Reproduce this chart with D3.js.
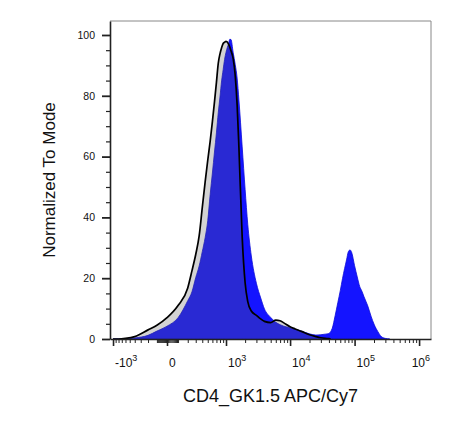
<!DOCTYPE html>
<html>
<head>
  <meta charset="utf-8">
  <title>CD4 histogram overlay</title>
  <script src="https://d3js.org/d3.v7.min.js"></script>
  <style>
    body { margin: 0; background: #fff; }
    text { font-family: "Liberation Sans", Arial, sans-serif; fill: #111; }
  </style>
</head>
<body>
  <div id="chart"></div>
  <script>
    const channelValues = [
      -1000, -800, -600, -400, -200, -100,
      0, 100, 200, 250, 300, 350, 400, 450, 500, 550,
      600, 650, 700, 750, 800, 850, 900, 950, 1000,
      1100, 1150, 1200, 1300, 1400, 1500, 1600, 1800, 2000, 2200,
      2500, 3000, 3500, 4000, 5000, 6000, 7000, 8000, 10000, 12000,
      15000, 20000, 25000, 30000, 35000, 40000, 42500, 45000, 50000, 55000,
      60000, 65000, 70000, 75000, 80000, 85000, 90000, 100000, 110000, 120000,
      130000, 140000, 160000, 180000, 200000, 230000, 260000, 300000, 350000
    ];

    // control sample: grey fill, black outline (% of mode)
    const controlCounts = [
      0, 0, 0.2, 0.8, 3.0, 4.5,
      7.0, 11.0, 16.8, 22.4, 27.8, 33.9, 43.2, 51.6, 58.8, 65.0,
      71.5, 78.0, 84.4, 90.7, 93.8, 95.8, 97.2, 97.6, 97.9,
      97.0, 96.0, 94.8, 92.2, 86.6, 77.0, 63.0, 33.5, 18.5, 12.3,
      9.2, 7.8, 6.6, 5.8, 5.4, 6.2, 6.0, 5.3, 4.0, 3.3,
      2.5, 1.4, 0.8, 0.4, 0.2, 0.1, 0, 0, 0, 0,
      0, 0, 0, 0, 0, 0, 0, 0, 0, 0,
      0, 0, 0, 0, 0, 0, 0, 0, 0
    ];

    // stained sample: blue fill (% of mode)
    const stainedCounts = [
      0, 0, 0, 0.35, 1.2, 2.6,
      4.2, 7.0, 12.6, 15.5, 20.2, 24.0, 28.7, 33.3, 38.9, 47.5,
      54.6, 61.5, 67.8, 74.4, 79.6, 84.9, 88.6, 92.0, 94.3,
      97.2, 98.6, 98.5, 94.2, 90.3, 85.8, 78.6, 63.2, 49.2, 37.7,
      27.3, 18.3, 13.5, 9.9, 7.1, 5.5, 4.7, 4.2, 3.7, 3.2,
      2.6, 1.7, 1.3, 1.4, 1.6, 1.8, 2.4, 3.5, 7.7, 12.0,
      15.9, 19.9, 23.2, 26.0, 28.7, 29.3, 28.5, 24.1, 20.4, 17.3,
      15.7, 13.9, 10.9, 7.5, 4.9, 2.4, 0.8, 0.2, 0
    ];

    const xMajorTicks = [-1000, 0, 1000, 10000, 100000, 1000000];
    const xTickBase = ["-10", "0", "10", "10", "10", "10"];
    const xTickExp = ["3", "", "3", "4", "5", "6"];
    const yMajorTicks = [0, 20, 40, 60, 80, 100];
    const yMinorTicks = [5, 10, 15, 25, 30, 35, 45, 50, 55, 65, 70, 75, 85, 90, 95];

    // minor ticks of the biexponential axis: 1..9 x each decade, both signs near zero
    const xMinorTicks = [];
    [10, 100].forEach(dec => d3.range(1, 10).forEach(m => { xMinorTicks.push(m * dec, -m * dec); }));
    [1000, 10000, 100000].forEach(dec => d3.range(2, 10).forEach(m => xMinorTicks.push(m * dec)));

    const width = 471, height = 426;
    const plotLeft = 110, plotRight = 431, plotTop = 21, plotBottom = 339, zeroX = 167;

    // FlowJo-like biex display: linear around zero, log for large values
    const biex = v => Math.asinh(v / 247) / Math.LN10;
    const xT = d3.scaleLinear()
      .domain([biex(-1129), 0, biex(1.53e6)])
      .range([plotLeft, zeroX, plotRight]);
    const x = v => xT(biex(v));

    const y = d3.scaleLinear().domain([0, 104.6]).range([plotBottom, plotTop]);

    const svg = d3.select("#chart").append("svg")
      .attr("width", width)
      .attr("height", height);

    const area = d3.area()
      .x((d, i) => x(channelValues[i]))
      .y0(plotBottom)
      .y1(d => y(d))
      .curve(d3.curveMonotoneX);

    // stained histogram first, control overlaid semi-transparent on top
    svg.append("path")
      .datum(stainedCounts)
      .attr("d", area)
      .attr("fill", "#1414ff")
      .attr("stroke", "#0a0ad8")
      .attr("stroke-width", 0.8);

    svg.append("path")
      .datum(controlCounts)
      .attr("d", area)
      .attr("fill", "#606060")
      .attr("fill-opacity", 0.28);

    const lastCtrl = controlCounts.length - 1 - [...controlCounts].reverse().findIndex(d => d > 0) + 1;
    const line = d3.line()
      .defined((d, i) => i <= lastCtrl)
      .x((d, i) => x(channelValues[i]))
      .y(d => y(d))
      .curve(d3.curveMonotoneX);

    svg.append("path")
      .datum(controlCounts)
      .attr("d", line)
      .attr("fill", "none")
      .attr("stroke", "#000")
      .attr("stroke-width", 1.7)
      .attr("stroke-linejoin", "round");

    // frame top and right
    svg.append("path")
      .attr("d", `M${plotLeft},${plotTop}H${plotRight}V${plotBottom}`)
      .attr("fill", "none")
      .attr("stroke", "#888")
      .attr("stroke-width", 1);

    // x axis
    const xMinor = svg.append("g")
      .attr("transform", `translate(0,${plotBottom})`)
      .call(d3.axisBottom(xT).tickValues(xMinorTicks.map(biex)).tickSize(4).tickSizeOuter(0).tickFormat(() => ""));
    xMinor.select(".domain").attr("stroke", "#222").attr("stroke-width", 1.6);
    xMinor.selectAll(".tick line").attr("stroke", "#222");

    const xMajor = svg.append("g")
      .attr("transform", `translate(0,${plotBottom})`)
      .call(d3.axisBottom(xT).tickValues(xMajorTicks.map(biex)).tickSize(7).tickSizeOuter(0).tickFormat(() => ""));
    xMajor.select(".domain").remove();
    xMajor.selectAll(".tick line").attr("stroke", "#222").attr("stroke-width", 1.6);

    xMajorTicks.forEach((v, i) => {
      const t = svg.append("text")
        .attr("x", x(v) + 2)
        .attr("y", 367)
        .attr("font-size", "12px");
      t.append("tspan").text(xTickBase[i]);
      if (xTickExp[i]) {
        t.append("tspan").attr("dy", -6).attr("font-size", "9px").text(xTickExp[i]);
      }
      const b = t.node().getBBox();
      if (b.x + b.width > plotRight - 1) t.attr("x", plotRight - 1 - b.width);
    });

    // y axis
    const yMinor = svg.append("g")
      .attr("transform", `translate(${plotLeft},0)`)
      .call(d3.axisLeft(y).tickValues(yMinorTicks).tickSize(4).tickSizeOuter(0).tickFormat(() => ""));
    yMinor.select(".domain").attr("stroke", "#222").attr("stroke-width", 1.6);
    yMinor.selectAll(".tick line").attr("stroke", "#222").attr("stroke-width", 1.2);

    const yMajor = svg.append("g")
      .attr("transform", `translate(${plotLeft},0)`)
      .call(d3.axisLeft(y).tickValues(yMajorTicks).tickSize(8).tickPadding(7).tickSizeOuter(0).tickFormat(d3.format("d")));
    yMajor.select(".domain").remove();
    yMajor.selectAll(".tick line").attr("stroke", "#222").attr("stroke-width", 1.8);
    yMajor.selectAll(".tick text")
      .attr("font-family", "'Liberation Sans', Arial, sans-serif")
      .attr("font-size", "10.5px")
      .attr("fill", "#111");

    // axis titles
    svg.append("text")
      .attr("x", (plotLeft + plotRight) / 2)
      .attr("y", 402)
      .attr("text-anchor", "middle")
      .attr("font-size", "18px")
      .text("CD4_GK1.5 APC/Cy7");

    svg.append("text")
      .attr("transform", `translate(55,${(plotTop + plotBottom) / 2}) rotate(-90)`)
      .attr("text-anchor", "middle")
      .attr("font-size", "17px")
      .text("Normalized To Mode");
  </script>
</body>
</html>
